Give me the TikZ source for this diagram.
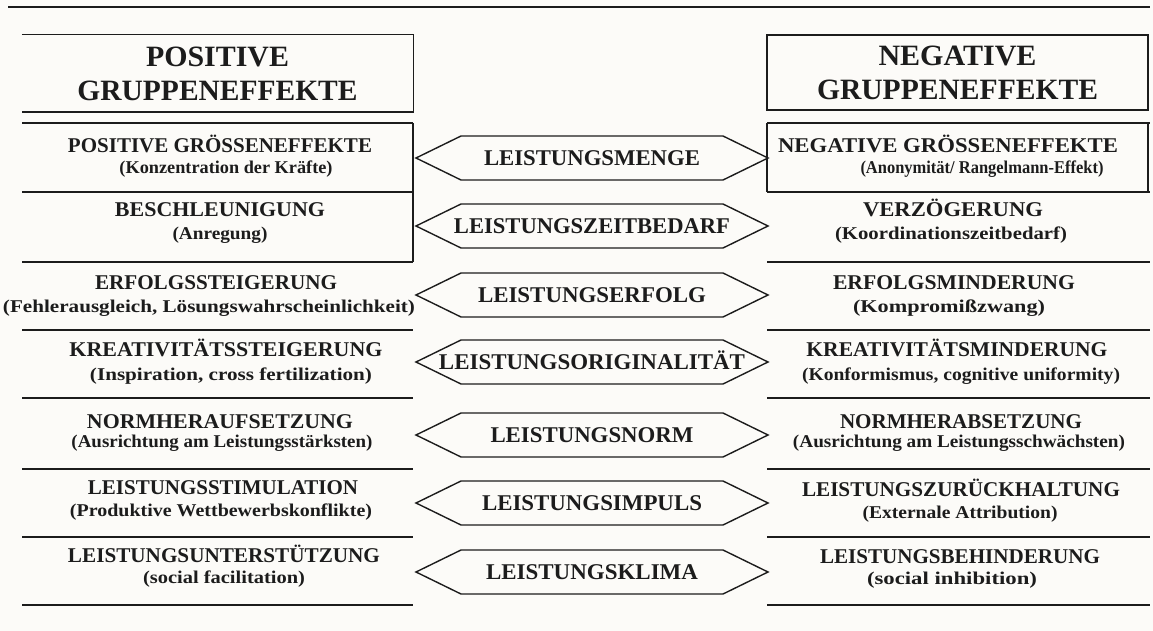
\documentclass[tikz,border=0pt]{standalone}
\usepackage{fontspec}
\setmainfont{Liberation Serif}
\usepackage{graphicx}
\definecolor{paper}{RGB}{252,251,248}
\definecolor{ink}{RGB}{28,28,28}
% set a text line to a given width (pt) while keeping its natural height
\newcommand\wto[2]{\resizebox{#1pt}{\height}{#2}}
\tikzset{
  rule/.style={draw=ink, line width=1.4pt},
  head/.style={font=\fontsize{29.5}{34}\selectfont\bfseries, text=ink, align=center, inner sep=0pt},
  ttl/.style={font=\fontsize{21}{24}\selectfont\bfseries, text=ink, inner sep=0pt, text height=13.9pt, text depth=0pt},
  subttl/.style={font=\fontsize{18}{21}\selectfont\bfseries, text=ink, inner sep=0pt, text height=12.4pt, text depth=4pt},
  mid/.style={font=\fontsize{22.5}{26}\selectfont\bfseries, text=ink, inner sep=0pt, text height=14.9pt, text depth=0pt},
}
% double-pointed hexagonal frame around a centre label
\newcommand\hexframe[1]{%
  \draw[rule, line join=miter]
    ([xshift=-176pt]#1.center) -- ([xshift=-131pt,yshift=22pt]#1.center)
    -- ([xshift=131pt,yshift=22pt]#1.center) -- ([xshift=176pt]#1.center)
    -- ([xshift=131pt,yshift=-22pt]#1.center) -- ([xshift=-131pt,yshift=-22pt]#1.center)
    -- cycle;}
\begin{document}
\begin{tikzpicture}[x=1pt,y=-1pt]
\useasboundingbox[fill=paper] (0,0) rectangle (1153,631);

% top rule
\draw[rule] (8,7) -- (1150,7);

% column headers
\node[head, minimum width=391pt, minimum height=77pt] (lhead) at (217.5,73.5)
  {\wto{143}{POSITIVE}\\\wto{280}{GRUPPENEFFEKTE}};
\draw[rule] (lhead.north west) -- (lhead.north east) -- (lhead.south east) -- (lhead.south west);
\node[head, rule, minimum width=381pt, minimum height=75pt] (rhead) at (957.5,72.5)
  {\wto{158}{NEGATIVE}\\\wto{281}{GRUPPENEFFEKTE}};

% row separators, left and right column
\foreach \y in {123,192,262,330,398,469,537,605} {
  \draw[rule] (22,\y) -- (413,\y);
  \draw[rule] (767,\y) -- (1150,\y);
}
\draw[rule] (413,123) -- (413,262);
\draw[rule] (767,123) -- (767,192);
\draw[rule] (1148,123) -- (1148,192);

% left column: positive effects
\node[ttl]    (p1) at (220,146) {\wto{304}{POSITIVE GRÖSSENEFFEKTE}};
\node[subttl] (p1s) at (226,169) {\wto{213}{(Konzentration der Kräfte)}};
\node[ttl]    (p2) at (220,210) {\wto{210}{BESCHLEUNIGUNG}};
\node[subttl] (p2s) at (220,235) {\wto{95}{(Anregung)}};
\node[ttl]    (p3) at (216,283) {\wto{242}{ERFOLGSSTEIGERUNG}};
\node[subttl] (p3s) at (209,308) {\wto{412}{(Fehlerausgleich, Lösungswahrscheinlichkeit)}};
\node[ttl]    (p4) at (226,350) {\wto{313}{KREATIVITÄTSSTEIGERUNG}};
\node[subttl] (p4s) at (231,376) {\wto{282}{(Inspiration, cross fertilization)}};
\node[ttl]    (p5) at (220,422) {\wto{266}{NORMHERAUFSETZUNG}};
\node[subttl] (p5s) at (222,443) {\wto{301}{(Ausrichtung am Leistungsstärksten)}};
\node[ttl]    (p6) at (223,488) {\wto{270}{LEISTUNGSSTIMULATION}};
\node[subttl] (p6s) at (221,512) {\wto{302}{(Produktive Wettbewerbskonflikte)}};
\node[ttl]    (p7) at (224,556) {\wto{312}{LEISTUNGSUNTERSTÜTZUNG}};
\node[subttl] (p7s) at (224,579) {\wto{162}{(social facilitation)}};

% right column: negative effects
\node[ttl]    (n1) at (948,146) {\wto{340}{NEGATIVE GRÖSSENEFFEKTE}};
\node[subttl] (n1s) at (982,169) {\wto{243}{(Anonymität/ Rangelmann-Effekt)}};
\node[ttl]    (n2) at (953,210) {\wto{180}{VERZÖGERUNG}};
\node[subttl] (n2s) at (951,235) {\wto{232}{(Koordinationszeitbedarf)}};
\node[ttl]    (n3) at (954,283) {\wto{242}{ERFOLGSMINDERUNG}};
\node[subttl] (n3s) at (949,308) {\wto{192}{(Kompromißzwang)}};
\node[ttl]    (n4) at (957,350) {\wto{301}{KREATIVITÄTSMINDERUNG}};
\node[subttl] (n4s) at (961,376) {\wto{318}{(Konformismus, cognitive uniformity)}};
\node[ttl]    (n5) at (961,422) {\wto{242}{NORMHERABSETZUNG}};
\node[subttl] (n5s) at (959,443) {\wto{332}{(Ausrichtung am Leistungsschwächsten)}};
\node[ttl]    (n6) at (961,490) {\wto{318}{LEISTUNGSZURÜCKHALTUNG}};
\node[subttl] (n6s) at (960,514) {\wto{195}{(Externale Attribution)}};
\node[ttl]    (n7) at (960,557) {\wto{280}{LEISTUNGSBEHINDERUNG}};
\node[subttl] (n7s) at (952,580) {\wto{170}{(social inhibition)}};

% centre column: performance dimensions
\node[mid] (m1) at (592,158) {\wto{216}{LEISTUNGSMENGE}};
\node[mid] (m2) at (592,226) {\wto{276}{LEISTUNGSZEITBEDARF}};
\node[mid] (m3) at (592,295) {\wto{228}{LEISTUNGSERFOLG}};
\node[mid] (m4) at (592,362) {\wto{306}{LEISTUNGSORIGINALITÄT}};
\node[mid] (m5) at (592,435) {\wto{203}{LEISTUNGSNORM}};
\node[mid] (m6) at (592,503) {\wto{220}{LEISTUNGSIMPULS}};
\node[mid] (m7) at (592,572) {\wto{212}{LEISTUNGSKLIMA}};
\foreach \k in {1,...,7} { \hexframe{m\k} }
\end{tikzpicture}
\end{document}
